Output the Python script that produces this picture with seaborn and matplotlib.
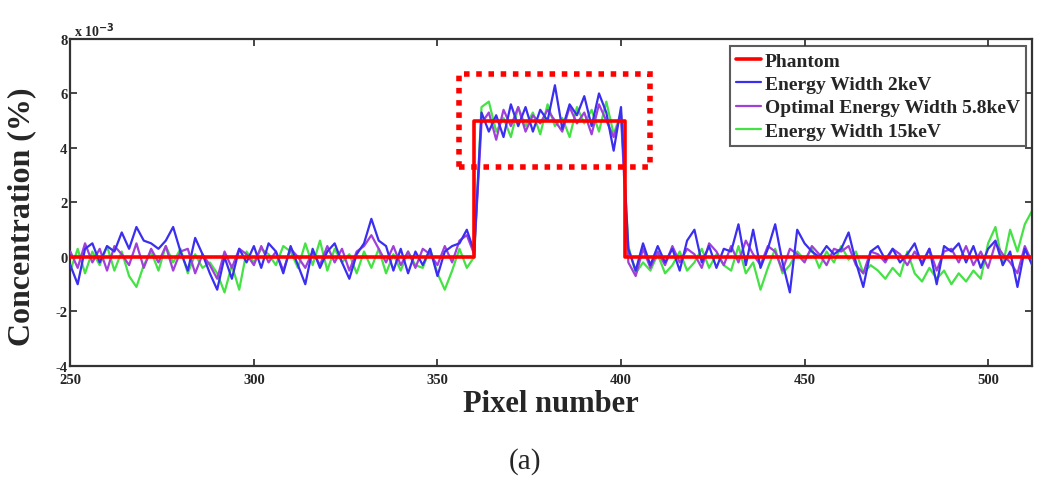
import numpy as np
import pandas as pd
import seaborn as sns
import matplotlib.pyplot as plt
from matplotlib.patches import Rectangle

# pixel positions (every 2nd pixel) and concentration values in units of 1e-3 %
pixels = np.arange(250, 513, 2)

width_2kev = [
    -0.3, -1.0, 0.3, 0.5, -0.2, 0.4, 0.2, 0.9, 0.3, 1.1,
    0.6, 0.5, 0.3, 0.6, 1.1, 0.2, -0.5, 0.7, 0.1, -0.6,
    -1.2, 0.0, -0.8, 0.3, -0.2, 0.4, -0.4, 0.5, 0.2, -0.6,
    0.4, -0.3, -1.0, 0.3, -0.4, 0.2, 0.5, -0.2, -0.8, 0.1,
    0.5, 1.4, 0.6, 0.4, -0.5, 0.3, -0.6, 0.2, -0.3, 0.3,
    -0.7, 0.2, 0.4, 0.5, 1.0, 0.2, 5.3, 4.6, 5.2, 4.4,
    5.6, 4.8, 5.5, 4.6, 5.4, 5.0, 6.3, 4.7, 5.6, 5.2,
    5.9, 4.8, 6.0, 5.3, 3.9, 5.5, 0.3, -0.5, 0.5, -0.3,
    0.4, -0.2, 0.3, -0.5, 0.6, 1.0, -0.2, 0.4, -0.4, 0.3,
    0.2, 1.2, -0.3, 1.0, -0.4, 0.3, 1.2, -0.2, -1.3, 1.0,
    0.5, 0.2, 0.0, 0.4, 0.1, 0.3, 0.9, -0.2, -1.1, 0.2,
    0.4, -0.1, 0.3, -0.2, 0.1, 0.5, -0.3, 0.3, -1.0, 0.4,
    0.2, 0.5, -0.2, 0.4, -0.4, 0.3, 0.6, -0.3, 0.2, -1.1,
    0.3, -0.3,
]

width_5_8kev = [
    0.2, -0.4, 0.5, -0.2, 0.3, -0.5, 0.4, 0.1, -0.3, 0.5,
    -0.4, 0.3, -0.2, 0.4, -0.5, 0.2, 0.3, -0.6, 0.1, -0.3,
    -0.8, 0.2, -0.4, 0.3, 0.1, -0.3, 0.4, -0.2, 0.2, -0.5,
    0.3, 0.0, -0.4, 0.2, -0.3, 0.4, -0.2, 0.3, -0.5, 0.2,
    0.4, 0.8, 0.3, -0.2, 0.4, -0.3, 0.2, -0.4, 0.3, 0.1,
    -0.3, 0.4, -0.2, 0.6, 0.8, 0.1, 4.9, 5.3, 4.3, 5.4,
    4.8, 5.5, 4.6, 5.2, 4.9, 5.4, 5.0, 4.6, 5.5, 4.9,
    5.3, 4.5, 5.6, 5.0, 4.4, 5.2, -0.2, -0.7, 0.3, -0.4,
    0.2, -0.3, 0.4, -0.2, 0.3, 0.1, -0.4, 0.5, 0.2, -0.3,
    0.4, -0.2, 0.6, 0.1, -0.3, 0.4, 0.2, -0.5, 0.3, 0.1,
    -0.2, 0.4, 0.1, -0.3, 0.3, 0.2, 0.4, -0.3, -0.6, 0.2,
    0.1, -0.2, 0.3, 0.1, -0.3, 0.2, -0.2, 0.3, -0.5, 0.2,
    0.3, -0.2, 0.4, -0.3, 0.2, -0.4, 0.5, 0.1, -0.2, -0.6,
    0.4, -0.2,
]

width_15kev = [
    -0.5, 0.3, -0.6, 0.2, -0.3, 0.4, -0.5, 0.2, -0.7, -1.1,
    -0.3, 0.2, -0.5, 0.4, -0.2, 0.3, -0.6, 0.1, -0.4, -0.2,
    -0.6, -1.3, -0.3, -1.2, 0.2, -0.2, 0.3, 0.1, -0.3, 0.4,
    0.2, -0.4, 0.5, -0.3, 0.6, -0.5, 0.3, -0.2, 0.1, -0.6,
    0.2, -0.4, 0.3, -0.6, 0.1, -0.5, 0.2, -0.3, -0.4, 0.3,
    -0.6, -1.2, -0.5, 0.3, -0.4, 0.0, 5.5, 5.7, 4.6, 5.1,
    4.4, 5.5, 4.8, 5.3, 4.5, 5.6, 4.8, 5.1, 4.4, 5.5,
    4.9, 5.4, 4.6, 5.7, 4.5, 5.3, 0.4, -0.6, -0.2, -0.5,
    0.1, -0.6, -0.3, 0.2, -0.5, -0.2, 0.3, -0.4, 0.1, -0.3,
    -0.5, 0.4, -0.6, -0.2, -1.2, -0.4, 0.3, -0.6, -0.3, 0.2,
    -0.1, 0.3, -0.4, 0.2, -0.2, 0.4, -0.1, 0.2, -0.6, -0.3,
    -0.5, -0.8, -0.4, -0.7, 0.2, -0.6, -0.9, -0.4, -0.8, -0.5,
    -1.0, -0.6, -0.9, -0.5, -0.8, 0.5, 1.1, -0.3, 1.0, 0.2,
    1.2, 1.7,
]

# phantom: a rectangular insert
phantom_x = [250, 360, 360, 401, 401, 512]
phantom_y = [0, 0, 5, 5, 0, 0]

# region of interest box (data units)
roi_x0, roi_y0, roi_w, roi_h = 356, 3.3, 52, 3.4

sns.set_style("ticks")
plt.rcParams['font.family'] = ['Liberation Serif', 'DejaVu Serif']
plt.rcParams['font.weight'] = 'bold'
plt.rcParams['axes.unicode_minus'] = False

fig = plt.figure(figsize=(10.5, 4.81), dpi=100)
ax = fig.add_axes([0.067, 0.237, 0.916, 0.680])

sns.lineplot(x=phantom_x, y=phantom_y, ax=ax, color='#ff0000', lw=2.6,
             label='Phantom', zorder=5, sort=False, estimator=None)
sns.lineplot(x=pixels, y=width_2kev, ax=ax, color='#3a2ef0', lw=1.6,
             label='Energy Width 2keV', zorder=4, estimator=None)
sns.lineplot(x=pixels, y=width_5_8kev, ax=ax, color='#a040d8', lw=1.6,
             label='Optimal Energy Width 5.8keV', zorder=3, estimator=None)
sns.lineplot(x=pixels, y=width_15kev, ax=ax, color='#44e244', lw=1.6,
             label='Energy Width 15keV', zorder=2, estimator=None)

ax.add_patch(Rectangle((roi_x0, roi_y0), roi_w, roi_h, fill=False,
                       edgecolor='#ff0000', lw=4, ls=(0, (1, 1.2)), zorder=6))

ax.set_xlim(250, 512)
ax.set_ylim(-4, 8)
ax.set_xticks([250, 300, 350, 400, 450, 500])
ax.set_yticks([-4, -2, 0, 2, 4, 6, 8])
ax.tick_params(direction='in', top=True, right=True, length=5, width=1.2,
               labelsize=10.5)
ax.tick_params(axis='x', pad=5)
ax.tick_params(axis='y', pad=2)
for lab in ax.get_xticklabels() + ax.get_yticklabels():
    lab.set_fontweight('bold')
for sp in ax.spines.values():
    sp.set_linewidth(1.6)
    sp.set_color('#333333')

ax.set_xlabel('Pixel number', fontsize=22, fontweight='bold', labelpad=2)
ax.set_ylabel('Concentration (%)', fontsize=23, fontweight='bold')
ax.yaxis.set_label_coords(-0.035, 0.46)
ax.text(0.004, 1.0, r'x 10$^{-3}$', transform=ax.transAxes, fontsize=10,
        fontweight='bold', ha='left', va='bottom')

leg = ax.legend(loc='upper right', bbox_to_anchor=(0.9975, 0.99), fontsize=14,
                frameon=True, fancybox=False, handlelength=1.3, handletextpad=0.2,
                labelspacing=0.3, borderpad=0.3, borderaxespad=0.2)
leg.get_frame().set_edgecolor('#333333')
leg.get_frame().set_linewidth(1.5)
for t in leg.get_texts():
    t.set_fontweight('bold')

fig.text(0.5, 0.04, '(a)', ha='center', va='center', fontsize=21,
         fontweight='normal')

fig.savefig('out.png', dpi=100)
